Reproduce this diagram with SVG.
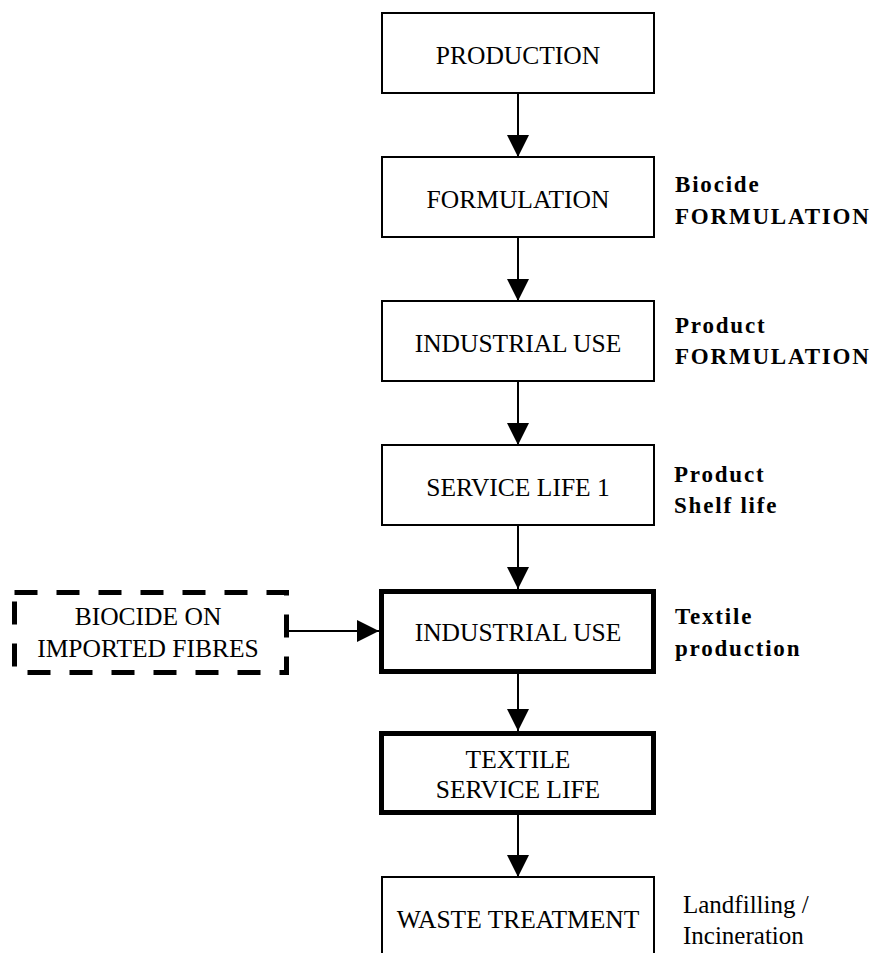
<svg xmlns="http://www.w3.org/2000/svg" width="879" height="953" viewBox="0 0 879 953">
<style>
.box{fill:#fff;stroke:#000;stroke-width:2}
.thick{fill:#fff;stroke:#000;stroke-width:5}
.dash{fill:#fff;stroke:#000;stroke-width:5;stroke-dasharray:23 19}
.t{font-family:"Liberation Serif","Times New Roman",serif;font-size:25.5px;fill:#000;text-anchor:middle}
.lb{font-family:"Liberation Serif","Times New Roman",serif;font-size:23px;font-weight:bold;letter-spacing:1.8px;fill:#000}
.lr{font-family:"Liberation Serif","Times New Roman",serif;font-size:25px;fill:#000}
.c{stroke:#000;stroke-width:2;fill:none;marker-end:url(#ah)}
</style>
<defs>
<marker id="ah" markerUnits="userSpaceOnUse" markerWidth="22" markerHeight="22" refX="21" refY="10.5" orient="auto" viewBox="0 0 21 21">
<path d="M0,0 L21,10.5 L0,21 z" fill="#000"/>
</marker>
</defs>
<rect width="879" height="953" fill="#fff"/>
<g id="connectors">
<line class="c" x1="518" y1="93" x2="518" y2="157"/>
<line class="c" x1="518" y1="237" x2="518" y2="301"/>
<line class="c" x1="518" y1="381" x2="518" y2="445"/>
<line class="c" x1="518" y1="525" x2="518" y2="589"/>
<line class="c" x1="518" y1="674" x2="518" y2="731"/>
<line class="c" x1="518" y1="815" x2="518" y2="877"/>
<line class="c" x1="289" y1="631" x2="379" y2="631"/>
</g>
<g id="production">
<rect class="box" x="382" y="13" width="272" height="80"/>
<text class="t" x="518" y="64">PRODUCTION</text>
</g>
<g id="formulation">
<rect class="box" x="382" y="157" width="272" height="80"/>
<text class="t" x="518" y="208">FORMULATION</text>
</g>
<g id="industrial-use-1">
<rect class="box" x="382" y="301" width="272" height="80"/>
<text class="t" x="518" y="352">INDUSTRIAL USE</text>
</g>
<g id="service-life-1">
<rect class="box" x="382" y="445" width="272" height="80"/>
<text class="t" x="518" y="496">SERVICE LIFE 1</text>
</g>
<g id="industrial-use-2">
<rect class="thick" x="381.5" y="591.5" width="272" height="80"/>
<text class="t" x="518" y="641">INDUSTRIAL USE</text>
</g>
<g id="textile-service-life">
<rect class="thick" x="381.5" y="733.5" width="272" height="79"/>
<text class="t" x="518" y="768">TEXTILE</text>
<text class="t" x="518" y="798">SERVICE LIFE</text>
</g>
<g id="waste-treatment">
<rect class="box" x="382" y="877" width="272" height="90"/>
<text class="t" x="518" y="928">WASTE TREATMENT</text>
</g>
<g id="biocide-imported">
<rect class="dash" x="14.5" y="592.5" width="272" height="80"/>
<text class="t" x="148" y="625">BIOCIDE ON</text>
<text class="t" x="148" y="657">IMPORTED FIBRES</text>
</g>
<g id="labels">
<text class="lb" x="675" y="192">Biocide</text>
<text class="lb" x="675" y="224">FORMULATION</text>
<text class="lb" x="675" y="333">Product</text>
<text class="lb" x="675" y="364">FORMULATION</text>
<text class="lb" x="674" y="482">Product</text>
<text class="lb" x="674" y="513">Shelf life</text>
<text class="lb" x="675" y="624">Textile</text>
<text class="lb" x="675" y="656">production</text>
<text class="lr" x="683" y="913">Landfilling /</text>
<text class="lr" x="683" y="944">Incineration</text>
</g>
</svg>
